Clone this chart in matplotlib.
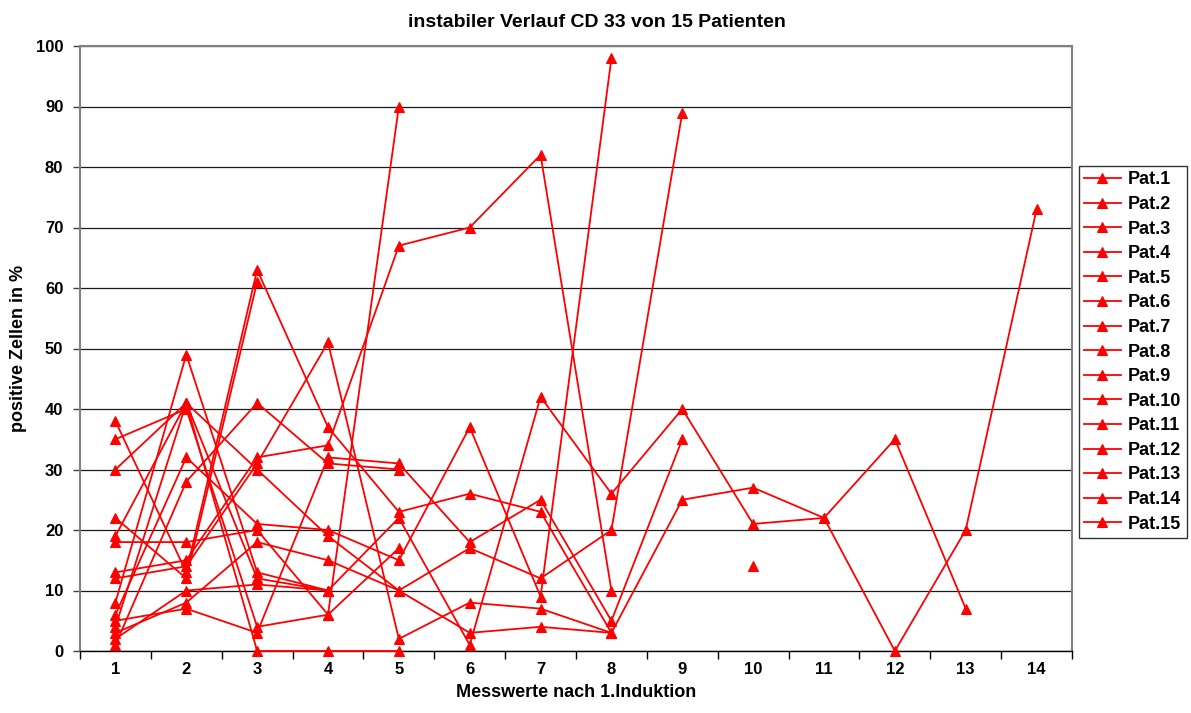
import numpy as np
import matplotlib
matplotlib.use("Agg")
import matplotlib.pyplot as plt

plt.rcParams['font.family'] = ['Liberation Sans', 'DejaVu Sans']

messwerte = list(range(1, 15))
N = None
pat1 = [8, 49, 13, 10, 22, 1, 42, 26, 40, 21, 22, 0, 20, 73]
pat2 = [38, 13, 63, 37, 23, 26, 23, 3, 25, 27, 22, 35, 7, N]
pat3 = [30, 41, 30, 19, 10, 17, 12, 20, 89, N, N, N, N, N]
pat4 = [5, 7, 3, 32, 31, 18, 25, 5, 35, N, N, N, N, N]
pat5 = [6, 32, 21, 20, 15, 37, 9, 98, N, N, N, N, N, N]
pat6 = [13, 15, 32, 34, 67, 70, 82, 10, N, N, N, N, N, N]
pat7 = [12, 14, 31, 51, 2, 8, 7, 3, N, N, N, N, N, N]
pat8 = [3, 8, 18, 15, 10, 3, 4, 3, N, N, N, N, N, N]
pat9 = [2, 10, 11, 10, N, N, N, N, N, 14, N, N, N, N]
pat10 = [35, 40, 4, 6, 90, N, N, N, N, N, N, N, N, N]
pat11 = [19, 41, 0, 0, 0, N, N, N, N, N, N, N, N, N]
pat12 = [22, 12, 61, N, N, N, N, N, N, N, N, N, N, N]
pat13 = [4, 41, 12, 10, N, N, N, N, N, N, N, N, N, N]
pat14 = [1, 28, 41, 31, 30, N, N, N, N, N, N, N, N, N]
pat15 = [18, 18, 20, 6, 17, N, N, N, N, N, N, N, N, N]
series = [pat1, pat2, pat3, pat4, pat5, pat6, pat7, pat8, pat9, pat10,
          pat11, pat12, pat13, pat14, pat15]
labels = [f"Pat.{i}" for i in range(1, 16)]

fig = plt.figure(figsize=(11.91, 7.13), dpi=100)
ax = fig.add_axes([80/1191, 1-651/713, (1072-80)/1191, (651-46)/713])

for vals, lab in zip(series, labels):
    y = np.array([np.nan if v is None else v for v in vals], dtype=float)
    ax.plot(messwerte, y, color='#FF0000', lw=1.3, marker='^', markersize=7,
            markeredgewidth=0.8, label=lab, clip_on=False, zorder=3)

ax.set_xlim(0.5, 14.5)
ax.set_ylim(0, 100)
ax.set_yticks(range(0, 101, 10))
ax.set_xticks(messwerte)
ax.set_xticks(np.arange(0.5, 14.6, 1), minor=True)
ax.tick_params(axis='x', which='major', length=0, pad=8)
ax.tick_params(axis='x', which='minor', length=6, width=1, color='black', direction='out')
ax.tick_params(axis='y', which='major', length=5, width=1, direction='out', color='#404040', pad=7)
for lbl in ax.get_xticklabels() + ax.get_yticklabels():
    lbl.set_fontweight('bold')
    lbl.set_fontsize(12)
ax.grid(axis='y', color='#1a1a1a', lw=0.9, zorder=0)
ax.set_axisbelow(True)
for s in ['left', 'right', 'top']:
    ax.spines[s].set_color('#808080')
    ax.spines[s].set_linewidth(1.5)
ax.spines['bottom'].set_color('black')
ax.spines['bottom'].set_linewidth(1)

fig.text(597/1191, 1-22.5/713, "instabiler Verlauf CD 33 von 15 Patienten",
         fontsize=14, fontweight='bold', ha='center', va='center')
ax.set_ylabel("positive Zellen in %", fontsize=13, fontweight='bold', labelpad=6)
ax.set_xlabel("Messwerte nach 1.Induktion", fontsize=13, fontweight='bold', labelpad=5)

leg = fig.legend(loc='upper left', bbox_to_anchor=(1079/1191, 1-166/713),
                 frameon=True, fancybox=False, edgecolor='black',
                 prop={'weight': 'bold', 'size': 13}, handlelength=2.0,
                 labelspacing=0.42, borderpad=0.3, handletextpad=0.4,
                 borderaxespad=0)
leg.get_frame().set_linewidth(1.0)

fig.savefig("out.png", dpi=100)
